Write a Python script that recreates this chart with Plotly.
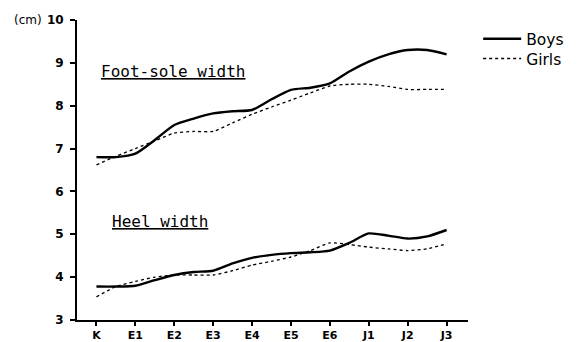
import plotly.graph_objects as go

grades = ["K", "E1", "E2", "E3", "E4", "E5", "E6", "J1", "J2", "J3"]
xpos = [i * 0.5 for i in range(19)]

foot_boys = [6.8, 6.8, 6.88, 7.2, 7.55, 7.7, 7.82, 7.87, 7.9, 8.15, 8.37, 8.42, 8.52, 8.8, 9.03, 9.2, 9.3, 9.3, 9.2]
foot_girls = [6.62, 6.82, 7.0, 7.18, 7.36, 7.4, 7.4, 7.6, 7.8, 7.97, 8.13, 8.3, 8.46, 8.5, 8.5, 8.45, 8.38, 8.38, 8.38]
heel_boys = [3.78, 3.78, 3.8, 3.93, 4.05, 4.12, 4.15, 4.32, 4.45, 4.52, 4.56, 4.58, 4.62, 4.8, 5.02, 4.97, 4.9, 4.95, 5.1]
heel_girls = [3.54, 3.78, 3.9, 4.0, 4.05, 4.05, 4.05, 4.15, 4.28, 4.37, 4.47, 4.62, 4.8, 4.76, 4.7, 4.66, 4.62, 4.66, 4.78]

FONT = "DejaVu Sans"
MONO = "DejaVu Sans Mono"

fig = go.Figure()
boys_line = dict(color="black", width=2.4, shape="spline", smoothing=0.6)
girls_line = dict(color="black", width=1.3, dash="dot", shape="spline", smoothing=0.6)

fig.add_trace(go.Scatter(x=xpos, y=foot_boys, mode="lines", line=boys_line,
                         name="Boys", legendgroup="b", legend="legend"))
fig.add_trace(go.Scatter(x=xpos, y=foot_girls, mode="lines", line=girls_line,
                         name="Girls", legendgroup="g", legend="legend2"))
fig.add_trace(go.Scatter(x=xpos, y=heel_boys, mode="lines", line=boys_line,
                         name="Boys", legendgroup="b", showlegend=False))
fig.add_trace(go.Scatter(x=xpos, y=heel_girls, mode="lines", line=girls_line,
                         name="Girls", legendgroup="g", showlegend=False))

leg_common = dict(xanchor="left", yanchor="top", bgcolor="rgba(0,0,0,0)",
                  orientation="h", entrywidth=35, entrywidthmode="pixels",
                  font=dict(size=15.5, family=FONT, color="black"), itemwidth=38)

# the page body adds an 8px offset, so the figure is 8px smaller and margins shifted
fig.update_layout(
    width=571, height=334,
    margin=dict(l=69, r=111, t=12, b=22),
    plot_bgcolor="white", paper_bgcolor="white",
    font=dict(family=FONT, color="black"),
    showlegend=True,
    legend=dict(x=1.026, y=0.993, **leg_common),
    legend2=dict(x=1.026, y=0.927, **leg_common),
    xaxis=dict(
        range=[-0.5, 9.55], tickmode="array",
        tickvals=list(range(len(grades))), ticktext=grades,
        showgrid=False, zeroline=False, showline=True, linecolor="black", linewidth=2,
        ticks="outside", ticklen=4, tickwidth=1.5, tickcolor="black",
        ticklabelstandoff=0, automargin=False,
        tickfont=dict(size=11, family=FONT, color="black", weight="bold"),
    ),
    yaxis=dict(
        range=[3, 10], tickmode="array", tickvals=[3, 4, 5, 6, 7, 8, 9, 10],
        showgrid=False, zeroline=False, showline=True, linecolor="black", linewidth=2,
        ticks="outside", ticklen=5, tickwidth=1.5, tickcolor="black",
        ticklabelstandoff=4, automargin=False,
        tickfont=dict(size=12, family=FONT, color="black", weight="bold"),
    ),
    annotations=[
        dict(text="<u>Foot-sole width</u>", x=1.97, y=8.79, xref="x", yref="y",
             showarrow=False, font=dict(size=16, family=MONO, color="black")),
        dict(text="<u>Heel width</u>", x=1.64, y=5.31, xref="x", yref="y",
             showarrow=False, font=dict(size=16, family=MONO, color="black")),
        dict(text="(cm)", x=-0.166, y=1.0, xref="paper", yref="paper",
             xanchor="left", yanchor="middle",
             showarrow=False, font=dict(size=12, family=FONT, color="black")),
    ],
)

fig.write_html("out.html")
